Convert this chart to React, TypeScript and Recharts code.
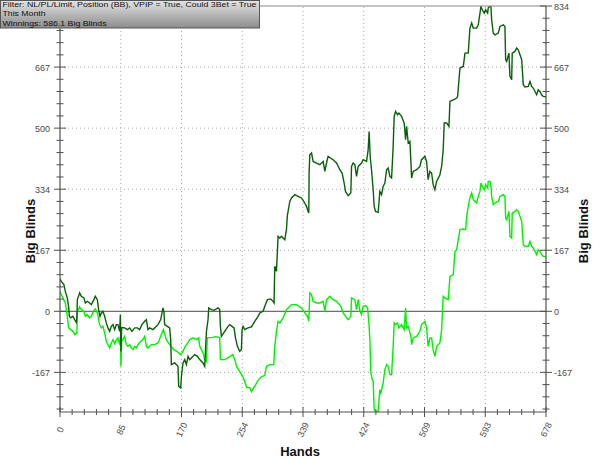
import { Line, LineChart, ReferenceLine, XAxis, YAxis } from 'recharts'

// [hand, big blinds]
const winnings: [number, number][] = [
  [0, 88.5], [1.8, 81.9], [5.4, 72.9], [7.4, 54.6], [10.2, 36.6], [12, 13.7], [13, -13.7], [14.8, -18], [18, -13.7],
  [20.4, -22.7], [22.8, -30], [23.6, -13.7], [24.2, 31.9], [27.4, 50.2], [29.7, 41], [33.4, 36.6], [35.3, 22.9],
  [38.1, 27.3], [41.3, 22.9], [43.7, 18.3], [47.3, 31.9], [49.3, 41], [52.1, 31.9], [53.9, 4.6], [55.7, -13.7],
  [57.7, -4.4], [59.9, 0], [62.3, -13.7], [64.6, -31.7], [66.9, -45.3], [69.3, -54.6], [71.6, -41], [73.9, -36.3],
  [76.2, -50], [78.6, -36.3], [80.8, -36.3], [83.2, -54.6], [84.2, -9], [85, -110], [86, -44.5], [90.2, -45.3],
  [94, -50], [97.2, -45.3], [100.4, -54.6], [104.2, -45.3], [107.9, -45.3], [111.1, -50], [114.3, -36.3],
  [118.1, -27.3], [120.5, -22.7], [122.7, -50], [125.1, -45.3], [129.7, -50], [134.5, -41], [136.7, -36.3],
  [140.5, -22.7], [143.7, 9.3], [145.1, -3.5], [146, -36.3], [149.8, -41], [153, -45.3], [154.4, -77.3],
  [155.4, -145.5], [160, -140.9], [164.6, -150.2], [165.6, -204.8], [168.4, -209.1], [169.4, -177.5],
  [171.6, -140.9], [174, -131.9], [176.3, -145.5], [178.6, -122.9], [180.9, -131.9], [183.3, -127.2],
  [187.9, -118.2], [191.7, -122.9], [194.9, -131.9], [199.5, -140.9], [201.9, -150.2], [204.3, -54.6],
  [206.5, -22.7], [207.5, 9.3], [211.2, 4.6], [214.9, 2.7], [218.2, 6.6], [220.5, 9.3], [222.8, 4.6], [223.8, -41],
  [225.2, -68.3], [229.8, -54.6], [234.4, -41], [236.8, -36.3], [240, -41], [242.8, -45.3], [244.8, -72.6],
  [247.5, -95.6], [250.7, -109.2], [253.1, -104.6], [254, -50], [255.4, -41], [257.7, -50], [262.3, -45.3],
  [267.1, -42.6], [271.7, -27.3], [276.3, -13.7], [278.7, -4.4], [283.3, 0], [285.7, 13.7], [289.4, 31.9],
  [294, 33.9], [297.2, 27.3], [298.6, 22.9], [299.6, 122.9], [302, 109.2], [303.4, 168.4], [304.2, 204.8],
  [306.6, 200.4], [309, 204.8], [311.2, 200.4], [313.6, 195.7], [315.9, 223], [317.3, 264], [318.2, 273],
  [320.6, 300.3], [322.9, 309.6], [327.6, 318.6], [332.2, 314], [336.9, 309.6], [341.5, 295.9], [343.9, 286.7],
  [346.1, 273], [347.1, 268.6], [347.5, 377.8], [348.5, 427.8], [350.9, 432.4], [353.1, 409.5], [357.8, 405.1],
  [362.5, 400.5], [367.1, 409.5], [369.5, 382.2], [371.8, 405.1], [374, 423.2], [381, 414.1], [385.8, 405.1],
  [390.4, 386.8], [393.6, 377.8], [396.4, 350.5], [398.3, 327.6], [402, 315.9], [405.7, 323.2], [406.7, 395.9],
  [409, 405.1], [411.3, 400.5], [413.7, 368.6], [416, 395.9], [420.7, 405.1], [422.9, 414.1], [427.7, 409.5],
  [429.9, 441.4], [431.3, 491.4], [432.7, 423.2], [434.6, 386.8], [436.9, 332.2], [438.3, 286.7], [440.2, 273],
  [443.9, 270.3], [446.2, 327.6], [448.6, 318.6], [450.8, 341.3], [453.2, 350.5], [455.6, 386.8], [457.8, 391.5],
  [460.2, 368.6], [462.6, 364.2], [464.8, 450.5], [466.2, 532.4], [468.2, 546], [471, 537], [472.8, 541.6],
  [476.5, 532.4], [480.2, 514.3], [482.1, 468.7], [483.5, 505.1], [485.8, 459.7], [488.1, 464.1], [489.5, 409.5],
  [490.5, 364.2], [492.7, 382.2], [497.5, 386.8], [502.1, 395.9], [504.4, 414.1], [509, 423.2], [511.4, 409.5],
  [513.6, 359.5], [516, 382.2], [518.4, 377.8], [520.6, 345.9], [523, 332.2], [525.4, 354.9], [530, 373.2],
  [532.4, 395.9], [534.6, 441.4], [536, 514.3], [539.4, 514.3], [542.6, 505.1], [544, 573.3], [548.6, 577.9],
  [553.3, 582.6], [554.7, 587], [556.6, 632.5], [558, 664.5], [562.6, 668.9], [565, 705.4], [569.5, 705.4],
  [571.9, 773.7], [574.3, 787.3], [576.5, 773.7], [581.2, 773.7], [583.5, 782.7], [585.9, 814.6], [587.2, 832.7],
  [589.1, 823.6], [591.9, 814.6], [593.8, 823.6], [596.6, 814.6], [597.4, 828.3], [599.8, 834], [601.2, 832.7],
  [602.2, 796.4], [604.4, 760], [606.8, 755.4], [611.4, 760], [613.8, 778.1], [618.4, 782.7], [620.7, 778.1],
  [621.7, 687.2], [623.1, 682.5], [626.3, 705.4], [627.7, 641.6], [630.1, 632.5], [630.9, 705.4], [634.7, 709.8],
  [637.1, 719.1], [639.3, 714.4], [641.7, 700.8], [644.1, 687.2], [646.3, 619], [648.7, 612.6], [653.3, 614.3],
  [655.6, 627.9], [658, 614.3], [660.2, 609.9], [662.6, 600.6], [665, 591.6], [667.2, 605.2], [669.5, 600.6],
  [671.9, 591.6], [674.1, 587], [678, 586.1],
]

const secondLine: [number, number][] = [
  [0, 54.6], [1.8, 45.6], [4, 36.6], [7.4, 22.9], [10.2, -13.7], [12, -45.3], [14.8, -50], [18, -54.6], [20.4, -63.6],
  [22.8, -60.9], [23.6, -59], [24.2, 0], [27.4, 12], [29.7, 4.6], [33.4, 0], [35.3, -13.7], [38.1, -9], [41.3, -18],
  [43.7, -13.7], [47.3, 2.7], [49.3, 6.6], [52.1, -4.4], [55.3, -36.3], [57.7, -45.3], [59.9, -41], [62.3, -59],
  [64.6, -81.9], [66.9, -90.9], [69.3, -99.9], [71.6, -86.3], [73.9, -77.3], [76.2, -88.2], [78.6, -77.3],
  [80.8, -72.6], [83.2, -90.9], [84.2, -68.3], [85, -151], [86, -81.9], [90.2, -68.3], [92.6, -90.9], [94.8, -95.6],
  [97.2, -90.9], [99.5, -99.9], [101.8, -104.6], [104.2, -95.6], [106.5, -99.9], [108.8, -90.9], [112.5, -81.9],
  [115.7, -77.3], [118.1, -68.3], [120.5, -95.6], [122.7, -99.9], [127.5, -90.9], [132.1, -90.9], [136.7, -86.3],
  [141.4, -63.6], [144.2, -50], [148.4, -77.3], [153, -90.9], [158.6, -104.6], [163.3, -110], [167.9, -118.2],
  [170.4, -113.6], [174.9, -95.6], [179.6, -81.9], [181, -77.3], [185.6, -72.6], [190.3, -77.3], [193.5, -72.6],
  [195, -95.6], [197.3, -104.6], [199.5, -113.6], [201.9, -131.9], [204.3, -137.3], [205.4, -71.8], [211.7, -71.8],
  [217.2, -69.1], [222.8, -71.8], [223.8, -131.9], [229.8, -131.9], [236.8, -123.7], [241, -118.2], [243.8, -131.9],
  [246.6, -151], [250.7, -164.6], [254.9, -178.3], [257.7, -191.9], [260.5, -208.3], [264.7, -208.3],
  [267.1, -219.2], [270.3, -208.3], [273.1, -200.1], [275.9, -189.2], [281.1, -178.3], [285.7, -175.5],
  [288, -150.2], [292.6, -145.5], [298.2, -145.5], [299.6, -95.6], [302, -54.6], [304.2, -27.3], [306.6, -31.7],
  [311.2, -18], [315.9, 4.6], [318.2, 9.3], [322.9, 18.3], [329.9, 18.3], [336.9, 9.3], [341.5, -4.4],
  [345.3, -13.7], [347.1, -27.3], [348.5, 50.2], [350.9, 45.6], [353.1, 27.3], [357.8, 22.9], [362.5, 22.9],
  [367.1, 27.3], [369.5, 0], [371.8, 31.9], [376.4, 41], [381, 31.9], [385.8, 27.3], [391.8, 13.7], [395, -4.4],
  [398.3, -13.7], [402, -22.7], [405.7, -13.7], [406.7, 36.6], [411.3, 31.9], [413.7, 4.6], [416, 31.9],
  [418.4, 0], [420.7, -9], [422.9, 13.7], [426.3, 15.6], [429.1, 9.3], [430.9, -31.7], [432.3, -77.3],
  [433.7, -168.2], [435.5, -186.5], [436.9, -191.1], [438.3, -268.4], [440.2, -274.4], [443.9, -273],
  [446.2, -213.8], [447.6, -222.8], [450.8, -195.5], [453.2, -159.2], [455.6, -145.5], [457.8, -150.2],
  [460.2, -172.8], [462.6, -172.8], [464.8, -95.6], [466.2, -31.7], [468.2, -36.3], [471, -31.7], [472.8, -45.3],
  [476.5, -36.3], [480.2, -50], [482.1, 9.3], [483.5, -45.3], [485.8, -41], [489.5, -68.3], [490.5, -90.9],
  [492.7, -72.6], [497.5, -68.3], [502.1, -54.6], [504.4, -36.3], [509, -27.3], [511.4, -45.3], [513.6, -95.6],
  [516, -72.6], [518.4, -72.6], [520.6, -104.6], [523, -122.9], [525.4, -95.6], [530, -86.3], [532.4, -50],
  [534.6, 41], [537, 36.6], [541.6, 31.9], [544, 95.6], [548.6, 100.2], [551, 163.8], [553.3, 168.4],
  [555.6, 195.7], [558, 223], [562.6, 224.9], [565.9, 223], [567.4, 259.4], [569.5, 286.7], [571.9, 309.6],
  [574.3, 323.2], [576.5, 304.9], [578.9, 300.3], [581.2, 295.9], [583.5, 314], [585.9, 327.6], [587.2, 350.5],
  [589.1, 341.3], [591.9, 332.2], [593.8, 345.9], [596.6, 336.9], [597.4, 354.9], [599.8, 354.9], [601.2, 341.3],
  [602.2, 314], [604.4, 291.3], [606.8, 295.9], [611.4, 300.3], [613.8, 314], [618.4, 318.6], [620.7, 314],
  [621.7, 255], [623.1, 250.3], [626.3, 273], [627.7, 204.8], [630.1, 200.4], [630.9, 268.6], [634.7, 273],
  [637.1, 277.6], [639.3, 273], [641.7, 259.4], [644.1, 245.7], [646.3, 182.1], [648.7, 177.5], [653.3, 177.5],
  [655.6, 191.1], [658, 177.5], [660.2, 173.1], [662.6, 163.8], [665, 154.8], [667.2, 168.4], [669.5, 163.8],
  [671.9, 154.8], [674.1, 150.2], [678, 149],
]

const xTickLabels = ['0', '85', '170', '254', '339', '424', '509', '593', '678']
const yTickLabels = ['-167', '0', '167', '334', '500', '667', '834']
const infoLines = ['Filter: NL/PL/Limit, Position (BB), VPIP = True, Could 3Bet = True', 'This Month', 'Winnings: 586.1 Big Blinds']
const infoWidths = [254, 43, 104]

const HANDS_MAX = 678
const BB_MAX = 834
const BB_MIN = -275
const X_STEP = HANDS_MAX / 40
const Y_STEP = BB_MAX / 25

const xTicks = Array.from({ length: 41 }, (_, i) => i * X_STEP)
const yTicks = Array.from({ length: 34 }, (_, i) => (i - 8) * Y_STEP)
const xGrid = [1, 2, 3, 4, 5, 6, 7].map((i) => i * 5 * X_STEP)
const yGrid = [-1, 1, 2, 3, 4].map((i) => i * 5 * Y_STEP)

const toRows = (points: [number, number][]) => points.map(([h, v]) => ({ h, v }))

const AXIS = '#505050'
const LABEL = '#4a4a4a'
const FONT = 'Liberation Sans, Arial, sans-serif'

function BottomTick(props: any) {
  const { x, y, payload } = props
  const i = Math.round(payload.value / X_STEP)
  const major = i % 5 === 0
  const len = major ? 5 : 3
  return (
    <g>
      <line x1={x} x2={x} y1={y - len} y2={y + len} stroke={AXIS} />
      {major && (
        <text transform={`translate(${x + 3},${y + 19}) rotate(-65)`} textAnchor="middle" fontSize={9} fontFamily={FONT} fill={LABEL}>
          {xTickLabels[i / 5]}
        </text>
      )}
    </g>
  )
}

function TopTick(props: any) {
  const { x, y } = props
  return <line x1={x} x2={x} y1={y} y2={y + 3} stroke="#888" />
}

// the top label on the left side sits under the info box, so it is left out
function LeftTick(props: any) {
  const { x, y, payload } = props
  const k = Math.round(payload.value / Y_STEP)
  const major = k % 5 === 0
  const len = major ? 6 : 3.5
  return (
    <g>
      <line x1={x - len} x2={x + len} y1={y} y2={y} stroke={AXIS} />
      {major && k < 25 && (
        <text x={x - 10} y={y} dy={3.5} textAnchor="end" fontSize={9} fontFamily={FONT} fill={LABEL}>
          {yTickLabels[k / 5 + 1]}
        </text>
      )}
    </g>
  )
}

function RightTick(props: any) {
  const { x, y, payload } = props
  const k = Math.round(payload.value / Y_STEP)
  const major = k % 5 === 0
  const len = major ? 6 : 3.5
  return (
    <g>
      <line x1={x - len} x2={x + len} y1={y} y2={y} stroke={AXIS} />
      {major && (
        <text x={x + 8} y={y} dy={3.5} textAnchor="start" fontSize={9} fontFamily={FONT} fill={LABEL}>
          {yTickLabels[k / 5 + 1]}
        </text>
      )}
    </g>
  )
}

export default function App() {
  return (
    <div style={{ position: 'absolute', left: 0, top: 0, width: 600, height: 458, background: '#fff' }}>
      <LineChart width={600} height={458} margin={{ top: 0, right: 0, bottom: 0, left: 0 }}>
        <XAxis
          dataKey="h"
          type="number"
          domain={[0, HANDS_MAX]}
          allowDataOverflow
          ticks={xTicks}
          interval={0}
          tickSize={0}
          tickMargin={0}
          tickLine={false}
          tick={BottomTick}
          height={46}
          axisLine={{ stroke: AXIS, strokeWidth: 1.2 }}
        />
        <XAxis
          xAxisId="top"
          orientation="top"
          type="number"
          domain={[0, HANDS_MAX]}
          allowDataOverflow
          ticks={xTicks}
          interval={0}
          tickSize={0}
          tickMargin={0}
          tickLine={false}
          tick={TopTick}
          height={6}
          axisLine={{ stroke: '#888' }}
        />
        <YAxis
          type="number"
          domain={[BB_MIN, BB_MAX]}
          allowDataOverflow
          ticks={yTicks}
          interval={0}
          tickSize={0}
          tickMargin={0}
          tickLine={false}
          tick={LeftTick}
          width={60}
          axisLine={{ stroke: AXIS, strokeWidth: 1.2 }}
        />
        <YAxis
          yAxisId="right"
          orientation="right"
          type="number"
          domain={[BB_MIN, BB_MAX]}
          allowDataOverflow
          ticks={yTicks}
          interval={0}
          tickSize={0}
          tickMargin={0}
          tickLine={false}
          tick={RightTick}
          width={54}
          axisLine={{ stroke: AXIS, strokeWidth: 1.2 }}
        />
        {xGrid.map((v) => (
          <ReferenceLine key={`gx${v}`} x={v} stroke="#a8a8a8" strokeDasharray="1 3" />
        ))}
        {yGrid.map((v) => (
          <ReferenceLine key={`gy${v}`} y={v} stroke="#a8a8a8" strokeDasharray="1 3" />
        ))}
        <ReferenceLine y={0} stroke="#6e6e6e" strokeWidth={1.2} />
        <Line
          data={toRows(secondLine)}
          dataKey="v"
          type="linear"
          stroke="#00f000"
          strokeWidth={1.4}
          dot={false}
          isAnimationActive={false}
        />
        <Line
          data={toRows(winnings)}
          dataKey="v"
          type="linear"
          stroke="#0a5f0a"
          strokeWidth={1.4}
          dot={false}
          isAnimationActive={false}
        />
      </LineChart>
      <svg width={600} height={458} style={{ position: 'absolute', left: 0, top: 0, pointerEvents: 'none' }}>
        <defs>
          <linearGradient id="infoFill" x1="0" y1="0" x2="0" y2="1">
            <stop offset="0%" stopColor="#e4e4e4" />
            <stop offset="100%" stopColor="#8c8c8c" />
          </linearGradient>
        </defs>
        <rect x={0.5} y={0.5} width={259} height={27.5} fill="url(#infoFill)" stroke="#555" />
        {infoLines.map((line, i) => (
          <text
            key={line}
            x={2.5}
            y={7.2 + i * 9.2}
            fontSize={7.2}
            fontFamily={FONT}
            fill="#111"
            textLength={infoWidths[i]}
            lengthAdjust="spacingAndGlyphs"
          >
            {line}
          </text>
        ))}
        <text transform="translate(30,231) rotate(-90)" textAnchor="middle" dominantBaseline="central" fontSize={13} fontWeight="bold" fontFamily={FONT} fill="#111">
          Big Blinds
        </text>
        <text transform="translate(583,231) rotate(-90)" textAnchor="middle" dominantBaseline="central" fontSize={13} fontWeight="bold" fontFamily={FONT} fill="#111">
          Big Blinds
        </text>
        <text x={300} y={451} textAnchor="middle" dominantBaseline="central" fontSize={13} fontWeight="bold" fontFamily={FONT} fill="#111">
          Hands
        </text>
      </svg>
    </div>
  )
}
